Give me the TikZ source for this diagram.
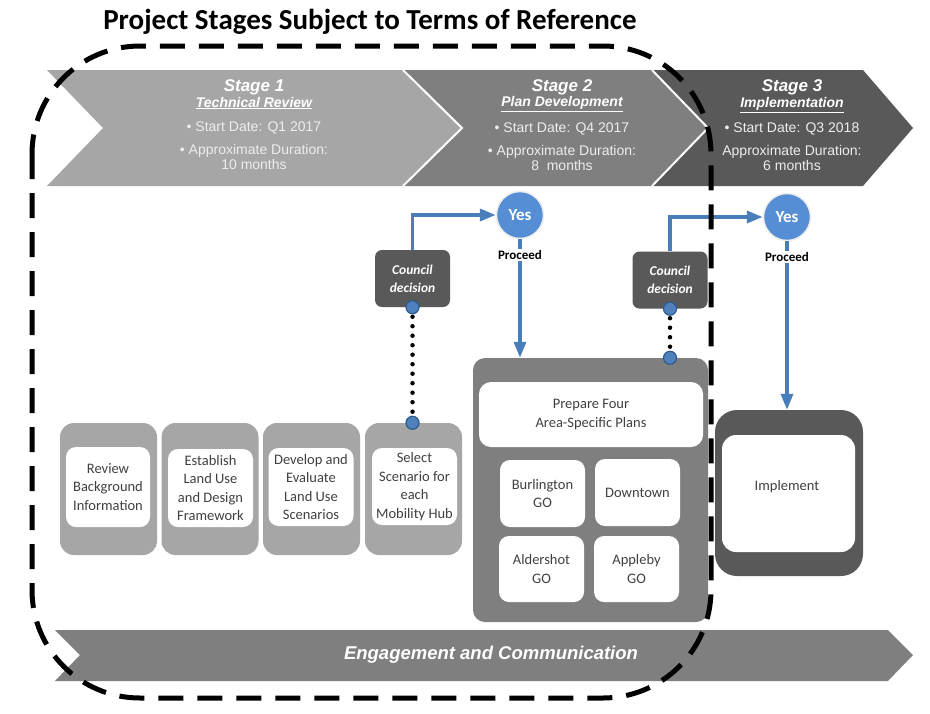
\documentclass[tikz,border=0pt]{standalone}
\usepackage{fontspec}
\setmainfont{Carlito}
\newfontfamily\arialf{Liberation Sans}
\usetikzlibrary{arrows.meta}
\definecolor{lgray}{HTML}{A6A6A6}
\definecolor{mgray}{HTML}{7F7F7F}
\definecolor{dgray}{HTML}{595959}
\definecolor{lineblue}{HTML}{4A7EBB}
\definecolor{yesblue}{HTML}{558ED5}
\definecolor{dotblue}{HTML}{4F81BD}
\definecolor{dotedge}{HTML}{2E5C8F}
\definecolor{boxtext}{HTML}{404040}
\definecolor{faint}{HTML}{EDEDED}
\begin{document}
\begin{tikzpicture}[x=1pt,y=-1pt,
 stagetitle/.style={text=white, font=\arialf\bfseries\itshape\fontsize{17}{19}\selectfont, inner sep=0},
 stagesub/.style={text=white, font=\arialf\bfseries\itshape\fontsize{14}{16}\selectfont, inner sep=0},
 stageinfo/.style={text=faint, font=\arialf\fontsize{14}{15.5}\selectfont, align=center, inner sep=0},
 outerbox/.style={fill=lgray, rounded corners=14pt, minimum width=97pt, minimum height=132pt, inner sep=0},
 whitebox/.style={fill=white, rounded corners=10pt, inner sep=0, align=center, text=boxtext, font=\fontsize{14.5}{18.5}\selectfont},
 boxlabel/.style={inner sep=0, align=center, text=boxtext, font=\fontsize{14.5}{18.5}\selectfont},
 council/.style={fill=dgray, rounded corners=7pt, minimum width=75pt, minimum height=57pt, text=white, font=\bfseries\itshape\fontsize{13.5}{18}\selectfont, align=center, inner sep=0},
 yes/.style={circle, fill=yesblue, draw=white!85!gray, line width=1.5pt, minimum size=47pt, inner sep=0, text=white, font=\bfseries\fontsize{17}{19}\selectfont},
 proceed/.style={fill=white, inner sep=1.5pt, font=\bfseries\fontsize{13}{15}\selectfont},
 flow/.style={draw=lineblue, line width=3.5pt, -{Triangle[length=16pt,width=12pt]}},
 hubdot/.style={circle, fill=dotblue, draw=dotedge, line width=1.2pt, minimum size=13pt, inner sep=0},
 dotline/.style={line width=4.5pt, dash pattern=on 0pt off 9.5pt, line cap=round},
 boundary/.style={line width=5pt, dash pattern=on 25pt off 14pt, rounded corners=108pt}
]
\useasboundingbox[fill=white] (0,0) rectangle (930,713);

\node[font=\bfseries\fontsize{29}{34}\selectfont, inner sep=0] (title) at (370,22) {Project Stages Subject to Terms of Reference};

% stage chevrons
\fill[lgray] (47,70) -- (403,70) -- (462,128) -- (403,186) -- (47,186) -- (103,128) -- cycle;
\fill[mgray] (403,70) -- (652,70) -- (708,128) -- (652,186) -- (403,186) -- (462,128) -- cycle;
\fill[dgray] (652,70) -- (863,70) -- (913,128) -- (863,186) -- (652,186) -- (708,128) -- cycle;
\draw[white, line width=2pt] (403,70) -- (462,128) -- (403,186);
\draw[white, line width=2pt] (652,70) -- (708,128) -- (652,186);

\node[stagetitle] (s1t) at (254,87) {Stage 1};
\node[stagesub] (s1s) at (254,103) {\underline{Technical Review}};
\node[stageinfo] (s1d) at (254,128) {• Start Date: Q1 2017};
\node[stageinfo] (s1u) at (254,157) {• Approximate Duration:\\10 months};

\node[stagetitle] (s2t) at (562,87) {Stage 2};
\node[stagesub] (s2s) at (562,104) {\underline{Plan Development}};
\node[stageinfo] (s2d) at (562,129) {• Start Date: Q4 2017};
\node[stageinfo] (s2u) at (562,158) {• Approximate Duration:\\8~~months};

\node[stagetitle] (s3t) at (792,87) {Stage 3};
\node[stagesub] (s3s) at (792,105) {\underline{Implementation}};
\node[stageinfo] (s3d) at (792,129) {• Start Date: Q3 2018};
\node[stageinfo] (s3u) at (792,158) {Approximate Duration:\\6 months};

% engagement band
\fill[mgray] (55,630) -- (888,630) -- (913,655) -- (888,681) -- (55,681) -- (80,655) -- cycle;
\node[font=\arialf\bfseries\itshape\fontsize{18.5}{21}\selectfont, text=white, inner sep=0] (eng) at (491,655) {Engagement and Communication};

% stage 1 boxes
\node[outerbox] (bA) at (108.5,489) {};
\node[whitebox, minimum width=84pt, minimum height=80pt] (tA) at (108,487) {Review\\Background\\Information};
\node[outerbox] (bB) at (210,489) {};
\node[whitebox, minimum width=85pt, minimum height=78pt] (tB) at (210.5,488) {Establish\\Land Use\\and Design\\Framework};
\node[outerbox] (bC) at (311.5,489) {};
\node[whitebox, minimum width=85pt, minimum height=78pt] (tC) at (311,487) {Develop and\\Evaluate\\Land Use\\Scenarios};
\node[outerbox] (bD) at (413.5,489) {};
\node[whitebox, minimum width=85pt, minimum height=77pt] (tD) at (414.5,486.5) {Select\\Scenario for\\each\\Mobility Hub};

% stage 2 box
\node[fill=mgray, rounded corners=12pt, minimum width=235pt, minimum height=264pt, inner sep=0] (plans) at (590.5,490) {};
\node[whitebox, minimum width=224pt, minimum height=65pt, rounded corners=12pt] (prep) at (591,414.5) {Prepare Four\\Area-Specific Plans};
\node[whitebox, minimum width=85pt, minimum height=67pt] (burl) at (542.5,493.5) {Burlington\\GO};
\node[whitebox, minimum width=85pt, minimum height=67pt] (down) at (637.5,492.5) {Downtown};
\node[whitebox, minimum width=85pt, minimum height=66pt] (ald) at (541.5,569) {Aldershot\\GO};
\node[whitebox, minimum width=85pt, minimum height=66pt] (app) at (636.5,569) {Appleby\\GO};

% implement box
\node[fill=dgray, rounded corners=22pt, minimum width=148pt, minimum height=166pt, inner sep=0] (impl) at (789,493) {};
\node[fill=white, rounded corners=14pt, minimum width=133pt, minimum height=117pt, inner sep=0] (implin) at (788.5,493.5) {};
\node[boxlabel] (impltxt) at (787,487) {Implement};

% council decisions and yes
\node[council] (cd1) at (412.5,278.5) {Council\\decision};
\node[council] (cd2) at (670,280) {Council\\decision};
\node[yes] (y1) at (520,215) {Yes};
\node[yes] (y2) at (787,217) {Yes};

\draw[flow] (cd1.north) |- (y1.west);
\draw[flow] (y1.south) -- (y1 |- plans.north);
\draw[flow] (cd2.north) |- (y2.west);
\draw[flow] (y2.south) -- (y2 |- impl.north);

\node[proceed] (p1) at (520,255) {Proceed};
\node[proceed] (p2) at (787,257) {Proceed};

\draw[dotline] (cd1.south) -- (cd1.south |- bD.north);
\draw[dotline] (cd2.south) -- (cd2.south |- plans.north);
\node[hubdot] (h1) at (cd1.south) {};
\node[hubdot] (h2) at (cd1.south |- bD.north) {};
\node[hubdot] (h3) at (cd2.south) {};
\node[hubdot] (h4) at (cd2.south |- plans.north) {};

% boundary
\draw[boundary] (32,46) rectangle (711,698);
\end{tikzpicture}
\end{document}
